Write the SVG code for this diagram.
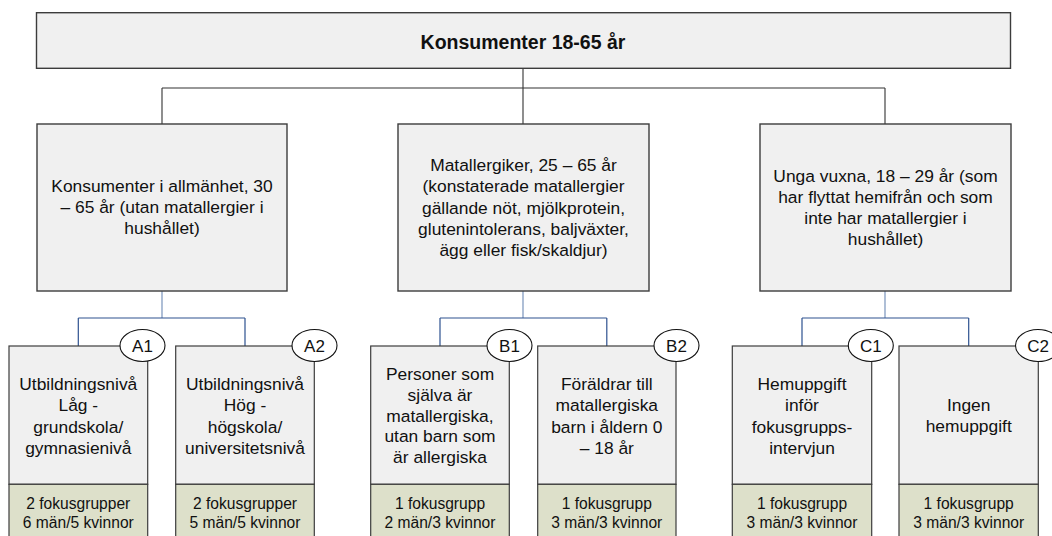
<svg xmlns="http://www.w3.org/2000/svg" width="1052" height="536" viewBox="0 0 1052 536">
<style>
  .box { fill: #F0F0F0; stroke: #3C3C3C; stroke-width: 1.4; }
  .band { fill: #DDE0CA; stroke: #3C3C3C; stroke-width: 1.2; }
  .sub { fill: #F0F0F0; stroke: #3C3C3C; stroke-width: 1.2; }
  .oval { fill: #FFFFFF; stroke: #111111; stroke-width: 1.1; }
  text { font-family: "Liberation Sans", Arial, sans-serif; fill: #111111; text-anchor: middle; }
  .t { font-size: 17.4px; }
  .b { font-size: 15.6px; }
  .title { font-size: 19.5px; font-weight: bold; }
  .lab { font-size: 17px; }
  .ck { stroke: #333333; stroke-width: 1.1; fill: none; }
  .cb { stroke: #2E5290; stroke-width: 1.2; fill: none; }
  .cl { stroke: #7A94BC; stroke-width: 1.2; fill: none; }
</style>
<rect width="1052" height="536" fill="#FFFFFF"/>
<g id="connectors">
  <path class="ck" d="M523,68 V88 M162,88 H885 M162,88 V124 M523,88 V124 M885,88 V124"/>
  <path class="cl" d="M162,291 V318 M523,291 V318 M885,291 V318"/>
  <path class="cb" d="M78.3,318 H245 M78.3,318 V346 M245,318 V346"/>
  <path class="cb" d="M440,318 H606.8 M440,318 V346 M606.8,318 V346"/>
  <path class="cb" d="M802,318 H968.7 M802,318 V346 M968.7,318 V346"/>
</g>
<g id="root">
  <rect class="box" x="36.5" y="12.7" width="974" height="55.6"/>
  <text class="title" x="523" y="48.5">Konsumenter 18-65 år</text>
</g>
<g id="groupA">
  <rect class="box" x="37" y="124" width="250" height="167"/>
  <text class="t" x="162" y="191.8">Konsumenter i allmänhet, 30</text>
  <text class="t" x="162" y="213">– 65 år (utan matallergier i</text>
  <text class="t" x="162" y="234.2">hushållet)</text>
</g>
<g id="groupB">
  <rect class="box" x="398" y="124" width="251" height="167"/>
  <text class="t" x="523.5" y="170.5">Matallergiker, 25 – 65 år</text>
  <text class="t" x="523.5" y="192">(konstaterade matallergier</text>
  <text class="t" x="523.5" y="213.5">gällande nöt, mjölkprotein,</text>
  <text class="t" x="523.5" y="235">glutenintolerans, baljväxter,</text>
  <text class="t" x="523.5" y="256.3">ägg eller fisk/skaldjur)</text>
</g>
<g id="groupC">
  <rect class="box" x="760" y="124" width="251" height="167"/>
  <text class="t" x="885.5" y="182.2">Unga vuxna, 18 – 29 år (som</text>
  <text class="t" x="885.5" y="203">har flyttat hemifrån och som</text>
  <text class="t" x="885.5" y="224">inte har matallergier i</text>
  <text class="t" x="885.5" y="244.5">hushållet)</text>
</g>
<g id="A1">
  <rect class="sub" x="9" y="346" width="138.7" height="138.3"/>
  <rect class="band" x="9" y="484.3" width="138.7" height="60"/>
  <text class="t" x="78.3" y="389.5">Utbildningsnivå</text>
  <text class="t" x="78.3" y="411">Låg -</text>
  <text class="t" x="78.3" y="433">grundskola/</text>
  <text class="t" x="78.3" y="454">gymnasienivå</text>
  <text class="b" x="78.3" y="509">2 fokusgrupper</text>
  <text class="b" x="78.3" y="527.5">6 män/5 kvinnor</text>
  <ellipse class="oval" cx="142.5" cy="345.5" rx="22.5" ry="16"/>
  <text class="lab" x="142.5" y="351.5">A1</text>
</g>
<g id="A2">
  <rect class="sub" x="175.7" y="346" width="138.6" height="138.3"/>
  <rect class="band" x="175.7" y="484.3" width="138.6" height="60"/>
  <text class="t" x="245" y="389.5">Utbildningsnivå</text>
  <text class="t" x="245" y="411">Hög -</text>
  <text class="t" x="245" y="433">högskola/</text>
  <text class="t" x="245" y="454">universitetsnivå</text>
  <text class="b" x="245" y="509">2 fokusgrupper</text>
  <text class="b" x="245" y="527.5">5 män/5 kvinnor</text>
  <ellipse class="oval" cx="314.5" cy="345.5" rx="22.5" ry="16"/>
  <text class="lab" x="314.5" y="351.5">A2</text>
</g>
<g id="B1">
  <rect class="sub" x="370.7" y="346" width="138.6" height="138.3"/>
  <rect class="band" x="370.7" y="484.3" width="138.6" height="60"/>
  <text class="t" x="440" y="379.5">Personer som</text>
  <text class="t" x="440" y="401">själva är</text>
  <text class="t" x="440" y="421.5">matallergiska,</text>
  <text class="t" x="440" y="442">utan barn som</text>
  <text class="t" x="440" y="463">är allergiska</text>
  <text class="b" x="440" y="509">1 fokusgrupp</text>
  <text class="b" x="440" y="527.5">2 män/3 kvinnor</text>
  <ellipse class="oval" cx="509.5" cy="345.5" rx="22.5" ry="16"/>
  <text class="lab" x="509.5" y="351.5">B1</text>
</g>
<g id="B2">
  <rect class="sub" x="537.7" y="346" width="138.3" height="138.3"/>
  <rect class="band" x="537.7" y="484.3" width="138.3" height="60"/>
  <text class="t" x="606.8" y="389.5">Föräldrar till</text>
  <text class="t" x="606.8" y="411">matallergiska</text>
  <text class="t" x="606.8" y="433">barn i åldern 0</text>
  <text class="t" x="606.8" y="454">– 18 år</text>
  <text class="b" x="606.8" y="509">1 fokusgrupp</text>
  <text class="b" x="606.8" y="527.5">3 män/3 kvinnor</text>
  <ellipse class="oval" cx="676.5" cy="345.5" rx="22.5" ry="16"/>
  <text class="lab" x="676.5" y="351.5">B2</text>
</g>
<g id="C1">
  <rect class="sub" x="732.3" y="346" width="139.4" height="138.3"/>
  <rect class="band" x="732.3" y="484.3" width="139.4" height="60"/>
  <text class="t" x="802" y="389.5">Hemuppgift</text>
  <text class="t" x="802" y="411">inför</text>
  <text class="t" x="802" y="433">fokusgrupps-</text>
  <text class="t" x="802" y="454">intervjun</text>
  <text class="b" x="802" y="509">1 fokusgrupp</text>
  <text class="b" x="802" y="527.5">3 män/3 kvinnor</text>
  <ellipse class="oval" cx="870.8" cy="345.5" rx="22.5" ry="16"/>
  <text class="lab" x="870.8" y="351.5">C1</text>
</g>
<g id="C2">
  <rect class="sub" x="899" y="346" width="139.3" height="138.3"/>
  <rect class="band" x="899" y="484.3" width="139.3" height="60"/>
  <text class="t" x="968.7" y="410.5">Ingen</text>
  <text class="t" x="968.7" y="432">hemuppgift</text>
  <text class="b" x="968.7" y="509">1 fokusgrupp</text>
  <text class="b" x="968.7" y="527.5">3 män/3 kvinnor</text>
  <ellipse class="oval" cx="1038" cy="345.5" rx="22.5" ry="16"/>
  <text class="lab" x="1038" y="351.5">C2</text>
</g>
</svg>
